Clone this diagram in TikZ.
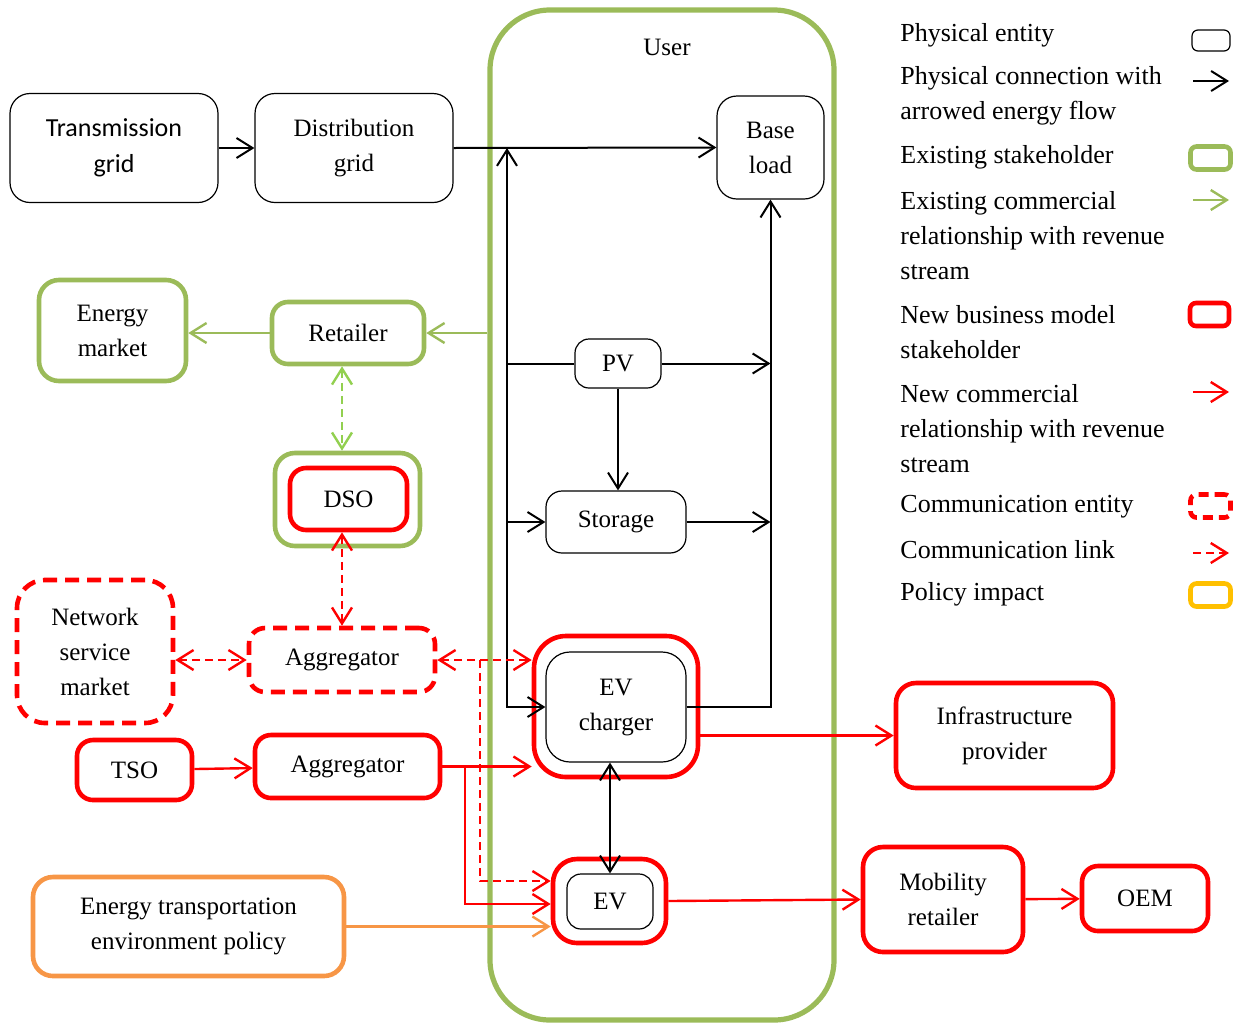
\documentclass[tikz,border=0pt]{standalone}
\usepackage{fontspec}
\setmainfont{Liberation Serif}
\newfontfamily\calibrifont{Carlito}
\usetikzlibrary{arrows.meta}

\definecolor{stkgreen}{HTML}{9BBB59}
\definecolor{dsogreen}{HTML}{92D050}
\definecolor{polorange}{HTML}{F79646}
\definecolor{polyellow}{HTML}{FFC000}

\begin{document}
\begin{tikzpicture}[x=0.5pt, y=-0.5pt,
    every node/.style={font=\fontsize{12.5}{17.5}\selectfont, align=center, inner sep=0pt},
    physbox/.style={draw, line width=0.6pt, rounded corners=10pt},
    oldbox/.style={draw=stkgreen, line width=2.3pt, rounded corners=10pt},
    newbox/.style={draw=red, line width=2.3pt, rounded corners=10pt},
    combox/.style={newbox, dash pattern=on 7pt off 4pt},
    polbox/.style={draw=polorange, line width=2.3pt, rounded corners=10pt},
    legtxt/.style={anchor=west, align=left, font=\fontsize{13}{17.5}\selectfont},
    phy/.style={draw, line width=1pt},
    oldrel/.style={draw=stkgreen, line width=1.2pt},
    newrel/.style={draw=red, line width=1.2pt},
    comlink/.style={draw=red, line width=1.2pt, dash pattern=on 4pt off 2.5pt},
    dsolink/.style={draw=dsogreen, line width=1.2pt, dash pattern=on 4pt off 2.5pt},
    >={Straight Barb[length=8pt, width=10pt]}]
    \useasboundingbox (0,0) rectangle (1240,1023);

    % User boundary
    \node[draw=stkgreen, line width=2.6pt, rounded corners=30pt, minimum width=172pt, minimum height=505pt] (user) at (662,515) {};
    \node (userlbl) at (667,47) {User};

    % Grid
    \node[physbox, minimum width=104pt, minimum height=54.5pt, font=\calibrifont\fontsize{13}{18}\selectfont] (trans) at (114,148) {Transmission\\grid};
    \node[physbox, minimum width=99pt, minimum height=54.5pt] (dist) at (354,148) {Distribution\\grid};

    % Physical entities of the user
    \node[physbox, minimum width=53.5pt, minimum height=51.5pt] (base) at (770.5,147.5) {Base\\load};
    \node[physbox, minimum width=43pt, minimum height=24.5pt, rounded corners=7pt] (pv) at (618,363.5) {PV};
    \node[physbox, minimum width=70pt, minimum height=31pt, rounded corners=8pt] (storage) at (616,522) {Storage};
    \node[newbox, minimum width=82pt, minimum height=70.5pt, rounded corners=16pt] (evcout) at (616,706.5) {};
    \node[physbox, minimum width=70pt, minimum height=55pt, rounded corners=12pt] (evcin) at (616,707) {EV\\charger};
    \node[newbox, minimum width=56.5pt, minimum height=42pt, rounded corners=12pt] (evout) at (609.5,901) {};
    \node[physbox, minimum width=43pt, minimum height=27.5pt, rounded corners=7pt] (evin) at (610,901.5) {EV};

    % Stakeholders on the left
    \node[oldbox, minimum width=73.5pt, minimum height=50.5pt] (emarket) at (112.5,330.5) {Energy\\market};
    \node[oldbox, minimum width=76pt, minimum height=31pt, rounded corners=8pt] (retailer) at (348,333) {Retailer};
    \node[oldbox, minimum width=72.5pt, minimum height=46.5pt] (dsoout) at (347.5,499.5) {};
    \node[newbox, minimum width=58.5pt, minimum height=31pt, rounded corners=8pt] (dsoin) at (348.5,499) {DSO};
    \node[combox, minimum width=78pt, minimum height=71.5pt, rounded corners=14pt] (nsm) at (95,651.5) {Network\\service\\market};
    \node[combox, minimum width=93pt, minimum height=32pt, rounded corners=8pt] (aggcom) at (342,660) {Aggregator};
    \node[newbox, minimum width=57.5pt, minimum height=30pt, rounded corners=8pt] (tso) at (134.5,770) {TSO};
    \node[newbox, minimum width=92.5pt, minimum height=31.5pt, rounded corners=8pt] (aggnew) at (347.5,766.5) {Aggregator};
    \node[polbox, minimum width=155.5pt, minimum height=49.5pt] (policy) at (188.5,926.5) {Energy transportation\\environment policy};

    % Stakeholders on the right
    \node[newbox, minimum width=108.5pt, minimum height=52.5pt] (infra) at (1004.5,735.5) {Infrastructure\\provider};
    \node[newbox, minimum width=80pt, minimum height=52.5pt] (mobility) at (943,899.5) {Mobility\\retailer};
    \node[newbox, minimum width=63pt, minimum height=32.5pt, rounded corners=8pt] (oem) at (1145,898.5) {OEM};

    % Energy flow
    \coordinate (gj) at (507,148);
    \draw[phy, ->] (trans) -- (dist);
    \draw[phy, ->] (dist.east) -- (base.west);
    \draw[phy, <->] (gj) -- (gj |- evcin.west) -- (evcin.west);
    \draw[phy] (pv.west) -- (pv.west -| gj);
    \draw[phy, ->] (storage.west -| gj) -- (storage.west);
    \draw[phy, ->] (pv.east) -- (pv.east -| base.south);
    \draw[phy, ->] (storage.east) -- (storage.east -| base.south);
    \draw[phy, ->] (evcin.east) -- (evcin.east -| base.south) -- (base.south);
    \draw[phy, ->] (pv.south |- pv.south) -- (pv.south |- storage.north);
    \draw[phy, <->] (evin.north |- evcin.south) -- (evin.north);

    % Commercial relationships
    \draw[oldrel, ->] (retailer.east -| user.west) -- (retailer.east);
    \draw[oldrel, ->] (retailer.west) -- (retailer.west -| emarket.east);
    \draw[dsolink, <->] (retailer.south -| aggcom.north) -- (dsoout.north -| aggcom.north);
    \draw[newrel, ->] (tso) -- (aggnew);
    \draw[newrel, ->] (aggnew.east) -- (aggnew.east -| evcout.west);
    \coordinate (nj) at (465,766.5);
    \draw[newrel, ->] (nj) |- ([yshift=-1.5pt]evout.west);
    \draw[newrel, ->] (infra.west -| evcout.east) -- (infra.west);
    \draw[newrel, ->] (evout.east) -- (mobility.west);
    \draw[newrel, ->] (mobility) -- (oem);
    \draw[draw=polorange, line width=1.2pt, ->] (policy.east) -- (policy.east -| evout.west);

    % Communication links
    \draw[comlink, <->] (aggcom.north |- dsoin.south) -- (aggcom.north);
    \draw[comlink, <->] (nsm.east |- aggcom.west) -- (aggcom.west);
    \draw[comlink, <->] (aggcom.east) -- (aggcom.east -| evcout.west);
    \coordinate (cj) at (480,660);
    \draw[comlink, ->] (cj) |- ([yshift=10pt]evout.west);

    % Legend
    \node[legtxt] (lg1) at (900,35) {Physical entity};
    \node[legtxt] (lg2) at (900,96) {Physical connection with\\arrowed energy flow};
    \node[legtxt] (lg3) at (900,157) {Existing stakeholder};
    \node[legtxt] (lg4) at (900,236) {Existing commercial\\relationship with revenue\\stream};
    \node[legtxt] (lg5) at (900,332) {New business model\\stakeholder};
    \node[legtxt] (lg6) at (900,428.5) {New commercial\\relationship with revenue\\stream};
    \node[legtxt] (lg7) at (900,507) {Communication entity};
    \node[legtxt] (lg8) at (900,550) {Communication link};
    \node[legtxt] (lg9) at (900,594) {Policy impact};

    \node[physbox, minimum width=19pt, minimum height=10.5pt, rounded corners=3pt] (ls1) at (1211,40.5) {};
    \node[oldbox, minimum width=20pt, minimum height=11.5pt, rounded corners=3pt] (ls3) at (1210.5,158) {};
    \node[newbox, minimum width=19.5pt, minimum height=11.5pt, rounded corners=3pt] (ls5) at (1209.5,314.5) {};
    \node[newbox, minimum width=20pt, minimum height=11.5pt, rounded corners=3pt, dash pattern=on 5pt off 3pt] (ls7) at (1210.5,506) {};
    \node[draw=polyellow, line width=2.3pt, minimum width=20pt, minimum height=11.5pt, rounded corners=3pt] (ls9) at (1210.5,595) {};
    \foreach \yy/\sty [count=\i] in {81/phy, 200/oldrel, 392/newrel, 553/comlink} {
        \coordinate (la\i) at (1193,\yy);
        \coordinate (lb\i) at (1229,\yy);
        \draw[\sty, ->] (la\i) -- (lb\i);
    }
\end{tikzpicture}
\end{document}
